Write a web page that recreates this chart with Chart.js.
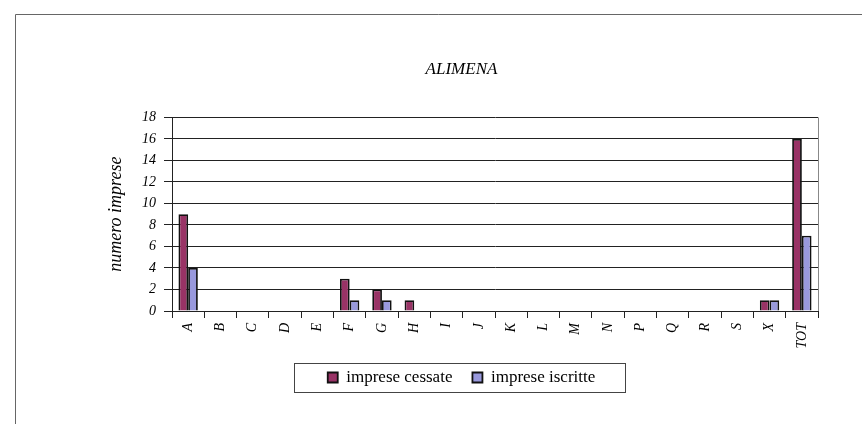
<!DOCTYPE html>
<html>
<head>
<meta charset="utf-8">
<script src="https://cdn.jsdelivr.net/npm/chart.js@4/dist/chart.umd.min.js"></script>
<style>
  html, body { margin: 0; padding: 0; background: #fff; }
  #wrap { position: relative; width: 862px; height: 424px; }
</style>
</head>
<body>
<div id="wrap"><canvas id="alimenaChart" width="862" height="424"></canvas></div>
<script>
// dati
const categorie = ['A', 'B', 'C', 'D', 'E', 'F', 'G', 'H', 'I', 'J', 'K', 'L', 'M', 'N', 'P', 'Q', 'R', 'S', 'X', 'TOT'];
const cessate = [9, 0, 0, 0, 0, 3, 2, 1, 0, 0, 0, 0, 0, 0, 0, 0, 0, 0, 1, 16];
const iscritte = [4, 0, 0, 0, 0, 1, 1, 0, 0, 0, 0, 0, 0, 0, 0, 0, 0, 0, 1, 7];
const yTicks = [0, 2, 4, 6, 8, 10, 12, 14, 16, 18];

const serif = '"Liberation Serif", "Times New Roman", serif';

// cornice esterna, bordo destro dell'area e riquadro della legenda
const decorazioni = {
  id: 'decorazioni',
  afterDraw(chart) {
    const c = chart.ctx;
    const area = chart.chartArea;
    c.save();
    c.strokeStyle = '#666';
    c.lineWidth = 1;
    c.beginPath();
    c.moveTo(15.5, 424);
    c.lineTo(15.5, 14.5);
    c.lineTo(862, 14.5);
    c.stroke();

    c.strokeStyle = '#888';
    c.beginPath();
    c.moveTo(Math.round(area.right) + 0.5, area.top);
    c.lineTo(Math.round(area.right) + 0.5, area.bottom);
    c.stroke();

    const boxes = chart.legend.legendHitBoxes;
    if (boxes && boxes.length) {
      const l = Math.min(...boxes.map(b => b.left)) - 34;
      const r = Math.max(...boxes.map(b => b.left + b.width)) + 29;
      const mid = boxes[0].top + boxes[0].height / 2;
      c.strokeStyle = '#444';
      c.strokeRect(Math.round(l) + 0.5, Math.round(mid - 14.5) + 0.5, Math.round(r - l), 29);
    }
    c.restore();
  }
};

new Chart(document.getElementById('alimenaChart'), {
  type: 'bar',
  data: {
    labels: categorie,
    datasets: [{
      label: 'imprese cessate',
      data: cessate,
      backgroundColor: '#993366',
      borderColor: '#111',
      borderWidth: 1.8,
      categoryPercentage: 0.6,
      barPercentage: 1.0
    }, {
      label: 'imprese iscritte',
      data: iscritte,
      backgroundColor: '#9999dd',
      borderColor: '#111',
      borderWidth: 1.8,
      categoryPercentage: 0.6,
      barPercentage: 1.0
    }]
  },
  options: {
    responsive: false,
    animation: false,
    layout: { padding: { left: 105, right: 44, top: 20, bottom: 28 } },
    plugins: {
      title: {
        display: true,
        text: 'ALIMENA',
        color: '#000',
        font: { family: serif, size: 17, style: 'italic', weight: 'normal' },
        padding: { top: 39, bottom: 38 }
      },
      legend: {
        position: 'bottom',
        labels: {
          color: '#000',
          font: { family: serif, size: 17 },
          boxWidth: 10,
          boxHeight: 10,
          padding: 20,
          generateLabels(chart) {
            return chart.data.datasets.map((ds, i) => ({
              text: ds.label,
              fillStyle: ds.backgroundColor,
              strokeStyle: '#111',
              lineWidth: 1.8,
              datasetIndex: i,
              hidden: false
            }));
          }
        }
      },
      tooltip: { enabled: false }
    },
    scales: {
      x: {
        grid: { offset: true, drawOnChartArea: false, drawTicks: true, tickLength: 7, color: '#222' },
        border: { color: '#222', width: 1 },
        ticks: {
          color: '#000',
          font: { family: serif, size: 14, style: 'italic' },
          minRotation: 90,
          maxRotation: 90,
          autoSkip: false,
          padding: 5
        },
        afterFit(scale) { scale.height = 38; }
      },
      y: {
        min: 0,
        max: 18,
        afterBuildTicks(scale) { scale.ticks = yTicks.map(v => ({ value: v })); },
        grid: { color: '#222', tickLength: 8 },
        border: { color: '#222', width: 1 },
        ticks: {
          color: '#000',
          font: { family: serif, size: 14, style: 'italic' },
          padding: 8
        },
        title: {
          display: true,
          text: 'numero imprese',
          color: '#000',
          font: { family: serif, size: 18, style: 'italic' },
          padding: { top: 0, bottom: 0 }
        },
        afterFit(scale) { scale.width = 67; }
      }
    }
  },
  plugins: [decorazioni]
});
</script>
</body>
</html>
